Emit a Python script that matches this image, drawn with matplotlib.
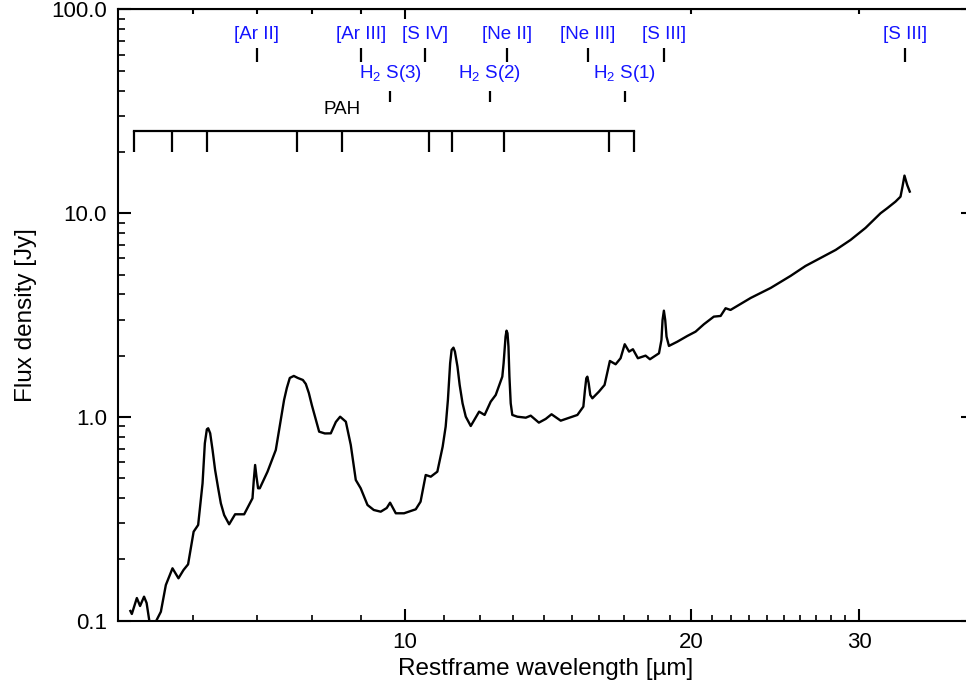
import matplotlib
matplotlib.use("Agg")
import matplotlib.pyplot as plt
from matplotlib.ticker import FixedLocator, NullFormatter, NullLocator

plt.rcParams['font.family'] = ['Liberation Sans', 'DejaVu Sans']
plt.rcParams['mathtext.fontset'] = 'custom'
plt.rcParams['mathtext.rm'] = 'Liberation Sans'
plt.rcParams['mathtext.it'] = 'Liberation Sans:italic'
plt.rcParams['mathtext.bf'] = 'Liberation Sans:bold'

# ---------------- data ----------------
wavelength = [5.152, 5.170, 5.233, 5.274, 5.325, 5.358, 5.404, 5.479, 5.546, 5.613,
              5.704, 5.787, 5.858, 5.923, 6.003, 6.069, 6.108, 6.134, 6.168, 6.198,
              6.218, 6.248, 6.284, 6.323, 6.370, 6.411, 6.463, 6.541, 6.636, 6.783,
              6.921, 6.943, 6.965, 6.988, 7.015, 7.044, 7.177, 7.322, 7.470,
              7.520, 7.574, 7.648, 7.722, 7.817, 7.873, 7.931, 7.988, 8.131, 8.244,
              8.363, 8.466, 8.554, 8.673, 8.777, 8.884, 8.990, 9.139, 9.279, 9.436,
              9.574, 9.652, 9.786, 9.983, 10.146, 10.27, 10.39, 10.52, 10.65, 10.82,
              10.96, 11.04, 11.10, 11.16, 11.20, 11.25, 11.29, 11.36, 11.42, 11.50,
              11.59, 11.73, 11.97, 12.13, 12.31,
              12.46, 12.66, 12.70, 12.73, 12.76, 12.79, 12.82, 12.85, 12.88, 12.92,
              12.97, 13.13, 13.40, 13.56, 13.83,
              14.06, 14.26, 14.58, 14.94, 15.18, 15.40, 15.46, 15.51, 15.55, 15.60,
              15.66, 15.74, 15.99, 16.21,
              16.42, 16.65, 16.85, 17.02, 17.20, 17.36, 17.57, 17.90, 18.09, 18.49,
              18.60, 18.65, 18.71, 18.77, 18.83, 18.94, 19.33, 19.80, 20.20, 20.61,
              21.11, 21.46, 21.72, 21.98,
              23.08, 24.22, 25.41, 26.35, 27.33, 28.34, 29.38, 30.46, 31.59, 32.10,
              32.75, 33.15, 33.31, 33.47, 33.69, 33.90]
flux = [0.1116, 0.1079, 0.1292, 0.1181, 0.1312, 0.1222, 0.094, 0.099, 0.1107, 0.1497,
        0.1808, 0.1615, 0.1774, 0.1891, 0.2735, 0.2950, 0.3914, 0.4726, 0.7427, 0.870,
        0.880, 0.832, 0.689, 0.549, 0.4467, 0.377, 0.330, 0.2973, 0.3329, 0.3329,
        0.3989, 0.4906, 0.5812, 0.5092, 0.4467, 0.4467, 0.5389, 0.6887, 1.212,
        1.388, 1.554, 1.590, 1.554, 1.519, 1.452, 1.311, 1.145, 0.847, 0.830,
        0.831, 0.945, 1.003, 0.948, 0.729, 0.4906, 0.4467, 0.3698, 0.3495, 0.3428,
        0.3574, 0.3796, 0.3367, 0.3367, 0.3455, 0.3522, 0.3839, 0.5191, 0.5092, 0.5389,
        0.7147, 0.8962, 1.212, 1.835, 2.133, 2.189, 2.093, 1.766, 1.436, 1.167,
        1.003, 0.903, 1.062, 1.023, 1.189,
        1.282, 1.577, 1.835, 2.133, 2.479, 2.653, 2.576, 2.214, 1.577, 1.167,
        1.023, 1.003, 0.992, 1.015, 0.938,
        0.978, 1.031, 0.959, 0.998, 1.023, 1.124, 1.357, 1.549, 1.577, 1.464,
        1.282, 1.235, 1.331, 1.436,
        1.883, 1.814, 1.942, 2.275, 2.093, 2.150, 1.942, 2.000, 1.920, 2.054,
        2.388, 2.994, 3.325, 2.994, 2.479, 2.232, 2.342, 2.498, 2.623, 2.852,
        3.108, 3.132, 3.417, 3.352,
        3.839, 4.298, 4.922, 5.511, 6.034, 6.604, 7.394, 8.469, 10.0, 10.58,
        11.40, 12.06, 13.51, 15.30, 13.77, 12.77]

line_names_top = ['[Ar II]', '[Ar III]', '[S IV]', '[Ne II]', '[Ne III]', '[S III]', '[S III]']
line_waves_top = [6.99, 8.99, 10.51, 12.81, 15.56, 18.71, 33.48]
line_names_h2 = ['H$_{2}$ S(3)', 'H$_{2}$ S(2)', 'H$_{2}$ S(1)']
line_waves_h2 = [9.66, 12.28, 17.03]
pah_waves = [5.2, 5.7, 6.2, 7.7, 8.6, 10.6, 11.2, 12.7, 16.4, 17.4]

x_major = [10, 20, 30]
x_minor = [6, 7, 8, 9, 11, 12, 13, 14, 15, 16, 17, 18, 19,
           21, 22, 23, 24, 25, 26, 27, 28, 29]
top_major = [10]
top_minor = [6, 7, 8, 9, 20, 30]
y_major = [0.1, 1.0, 10.0, 100.0]
y_major_labels = ['0.1', '1.0', '10.0', '100.0']
y_minor = [0.2, 0.3, 0.4, 0.5, 0.6, 0.7, 0.8, 0.9,
           2, 3, 4, 5, 6, 7, 8, 9, 20, 30, 40, 50, 60, 70, 80, 90]

# ---------------- figure ----------------
W, H = 966, 685
fig = plt.figure(figsize=(W / 100, H / 100), dpi=100)
left_px, right_px, top_px, bot_px = 118, 973, 9.5, 620.7
ax = fig.add_axes([left_px / W, 1 - bot_px / H, (right_px - left_px) / W, (bot_px - top_px) / H])

ax.plot(wavelength, flux, color='black', lw=1.7, solid_joinstyle='round')

ax.set_xscale('log')
ax.set_yscale('log')
ax.set_xlim(5.0, 39.5)
ax.set_ylim(0.1, 100.0)

for s in ax.spines.values():
    s.set_linewidth(1.5)

ax.xaxis.set_major_locator(FixedLocator(x_major))
ax.xaxis.set_minor_locator(FixedLocator(x_minor))
ax.set_xticklabels([str(v) for v in x_major])
ax.xaxis.set_minor_formatter(NullFormatter())
ax.yaxis.set_major_locator(FixedLocator(y_major))
ax.yaxis.set_minor_locator(FixedLocator(y_minor))
ax.set_yticklabels(y_major_labels)
ax.yaxis.set_minor_formatter(NullFormatter())

ax.tick_params(axis='both', which='major', direction='in', length=9, width=1.5,
               labelsize=16, pad=8, top=False, right=False)
ax.tick_params(axis='both', which='minor', direction='in', length=4.5, width=1.2,
               top=False, right=False)
ax.tick_params(axis='y', which='minor', length=5)

# top axis
sec = ax.secondary_xaxis('top')
sec.xaxis.set_major_locator(FixedLocator(top_major))
sec.xaxis.set_minor_locator(FixedLocator(top_minor))
sec.xaxis.set_major_formatter(NullFormatter())
sec.xaxis.set_minor_formatter(NullFormatter())
sec.tick_params(which='major', direction='in', length=7, width=1.5)
sec.tick_params(which='minor', direction='in', length=3.5, width=1.5)

# right axis
secy = ax.secondary_yaxis('right')
secy.yaxis.set_major_locator(FixedLocator(y_major))
secy.yaxis.set_minor_locator(NullLocator())
secy.yaxis.set_major_formatter(NullFormatter())
secy.tick_params(which='major', direction='in', length=9, width=1.5)

ax.set_xlabel('Restframe wavelength [\u00b5m]', fontsize=17.5, labelpad=4)
ax.set_ylabel('Flux density [Jy]', fontsize=17.5, labelpad=10)

# line identifications
blue = '#1414ff'
for name, w in zip(line_names_top, line_waves_top):
    ax.text(w, 75.0, name, color=blue, fontsize=13.5, ha='center', va='center')
    ax.plot([w, w], [55.3, 64.8], color='black', lw=1.6, solid_capstyle='butt')
for name, w in zip(line_names_h2, line_waves_h2):
    ax.text(w, 48.3, name, color=blue, fontsize=13.5, ha='center', va='center')
    ax.plot([w, w], [35.2, 39.8], color='black', lw=1.6, solid_capstyle='butt')

ax.text(pah_waves[4], 32.2, 'PAH', color='black', fontsize=13.5, ha='center', va='center')
ax.plot([pah_waves[0], pah_waves[-1]], [25.2, 25.2], color='black', lw=1.6)
for w in pah_waves:
    ax.plot([w, w], [20.0, 25.2], color='black', lw=1.6, solid_capstyle='butt')

fig.savefig('out.png', dpi=100)
